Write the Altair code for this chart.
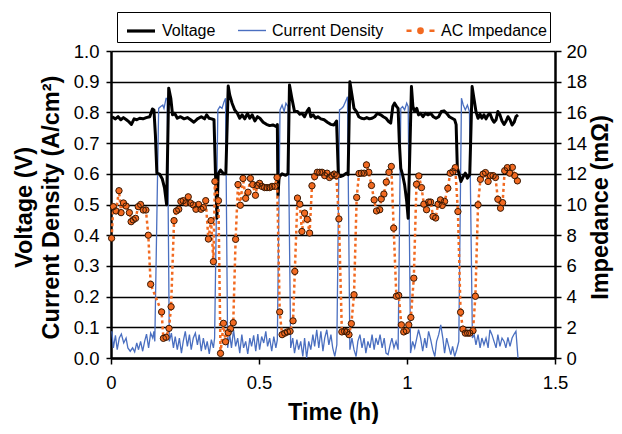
import altair as alt
import pandas as pd

FONT = "Liberation Sans"
BLUE = "#4A6FC0"
ORANGE = "#F26A21"
DOT_EDGE = "#3A1A05"

legend_order = ["Voltage", "Current Density", "AC Impedance"]
scale_domain = ["Voltage", "AC Impedance", "Current Density"]
scale_colors = ["#000000", ORANGE, BLUE]

# ---- Voltage (V) ----
volt_t = [0.003, 0.015, 0.024, 0.033, 0.042, 0.052, 0.060, 0.069, 0.078, 0.087, 0.097, 0.108, 0.119, 0.131,
          0.140, 0.145, 0.150, 0.155, 0.164, 0.173, 0.181, 0.188, 0.195, 0.202, 0.208, 0.215, 0.224, 0.235,
          0.247, 0.258, 0.269, 0.280, 0.292, 0.305, 0.316, 0.323, 0.331, 0.340, 0.348, 0.353, 0.358, 0.362,
          0.370, 0.380, 0.388, 0.396, 0.401, 0.409, 0.418, 0.427, 0.435, 0.443, 0.452, 0.461, 0.469, 0.477,
          0.486, 0.495, 0.503, 0.514, 0.525, 0.536, 0.547, 0.559, 0.562, 0.564, 0.568, 0.578, 0.590, 0.598,
          0.603, 0.611, 0.620, 0.630, 0.638, 0.645, 0.654, 0.663, 0.669, 0.675, 0.683, 0.691, 0.699, 0.709,
          0.720, 0.731, 0.742, 0.753, 0.762, 0.768, 0.775, 0.784, 0.795, 0.801, 0.807, 0.814, 0.821, 0.829,
          0.837, 0.846, 0.855, 0.864, 0.873, 0.882, 0.891, 0.900, 0.911, 0.920, 0.929, 0.938, 0.945, 0.952,
          0.958, 0.965, 0.970, 0.974, 0.979, 0.985, 0.992, 0.999, 1.004, 1.015, 1.020, 1.026, 1.033, 1.039,
          1.046, 1.054, 1.062, 1.071, 1.080, 1.089, 1.098, 1.107, 1.116, 1.125, 1.134, 1.143, 1.152, 1.161,
          1.166, 1.170, 1.176, 1.182, 1.190, 1.197, 1.204, 1.212, 1.220, 1.226, 1.233, 1.240, 1.247, 1.253,
          1.260, 1.267, 1.274, 1.280, 1.287, 1.294, 1.301, 1.307, 1.314, 1.321, 1.328, 1.335, 1.341, 1.348,
          1.355, 1.362, 1.368, 1.375]
volt_v = [0.786, 0.779, 0.786, 0.776, 0.783, 0.776, 0.770, 0.761, 0.779, 0.776, 0.781, 0.779, 0.783, 0.786,
          0.811, 0.808, 0.727, 0.602, 0.599, 0.584, 0.553, 0.499, 0.879, 0.846, 0.792, 0.797, 0.781, 0.786,
          0.779, 0.783, 0.776, 0.768, 0.779, 0.786, 0.779, 0.792, 0.781, 0.779, 0.776, 0.600, 0.455, 0.600,
          0.612, 0.600, 0.600, 0.886, 0.857, 0.830, 0.808, 0.797, 0.781, 0.792, 0.779, 0.797, 0.781, 0.792,
          0.772, 0.786, 0.781, 0.768, 0.761, 0.757, 0.759, 0.754, 0.760, 0.530, 0.590, 0.600, 0.595, 0.600,
          0.889, 0.846, 0.803, 0.803, 0.794, 0.797, 0.786, 0.805, 0.813, 0.786, 0.792, 0.781, 0.786, 0.779,
          0.776, 0.768, 0.761, 0.759, 0.772, 0.600, 0.591, 0.594, 0.602, 0.597, 0.900, 0.857, 0.813, 0.803,
          0.786, 0.781, 0.779, 0.783, 0.779, 0.781, 0.786, 0.797, 0.792, 0.786, 0.781, 0.770, 0.765, 0.819,
          0.830, 0.819, 0.813, 0.705, 0.618, 0.597, 0.564, 0.510, 0.455, 0.884, 0.819, 0.803, 0.813, 0.792,
          0.797, 0.786, 0.797, 0.792, 0.797, 0.786, 0.781, 0.786, 0.803, 0.805, 0.797, 0.786, 0.781, 0.776,
          0.760, 0.620, 0.600, 0.575, 0.591, 0.602, 0.586, 0.597, 0.884, 0.846, 0.803, 0.781, 0.794, 0.781,
          0.792, 0.779, 0.792, 0.797, 0.779, 0.768, 0.776, 0.803, 0.792, 0.772, 0.761, 0.772, 0.786, 0.776,
          0.759, 0.768, 0.786, 0.792]

# ---- Current density (A/cm2) ----
cur_t = [0.003, 0.008, 0.015, 0.021, 0.028, 0.035, 0.043, 0.051, 0.057, 0.065, 0.073, 0.080, 0.087, 0.093,
         0.100, 0.107, 0.114, 0.120, 0.127, 0.134, 0.141, 0.145, 0.148, 0.161, 0.168, 0.175, 0.179, 0.186,
         0.190, 0.197, 0.204, 0.211, 0.217, 0.224, 0.231, 0.238, 0.244, 0.251, 0.258, 0.265, 0.271, 0.278,
         0.285, 0.292, 0.298, 0.305, 0.312, 0.319, 0.325, 0.332, 0.339, 0.346, 0.350, 0.361, 0.368, 0.375,
         0.382, 0.387, 0.394, 0.401, 0.407, 0.414, 0.421, 0.428, 0.435, 0.442, 0.448, 0.455, 0.462, 0.469,
         0.475, 0.482, 0.489, 0.496, 0.502, 0.509, 0.516, 0.523, 0.529, 0.536, 0.543, 0.550, 0.557, 0.562,
         0.571, 0.578, 0.585, 0.591, 0.598, 0.607, 0.614, 0.620, 0.628, 0.634, 0.641, 0.648, 0.654, 0.661,
         0.668, 0.675, 0.682, 0.688, 0.695, 0.702, 0.709, 0.716, 0.722, 0.729, 0.736, 0.743, 0.749, 0.756,
         0.763, 0.772, 0.779, 0.785, 0.792, 0.799, 0.807, 0.814, 0.821, 0.828, 0.834, 0.841, 0.848, 0.855,
         0.861, 0.868, 0.875, 0.882, 0.889, 0.895, 0.902, 0.909, 0.916, 0.923, 0.929, 0.936, 0.943, 0.949,
         0.956, 0.963, 0.970, 0.979, 0.985, 0.992, 0.999, 1.004, 1.012, 1.019, 1.026, 1.033, 1.039, 1.046,
         1.053, 1.060, 1.066, 1.073, 1.080, 1.087, 1.094, 1.100, 1.107, 1.114, 1.121, 1.127, 1.134, 1.141,
         1.148, 1.154, 1.161, 1.168, 1.175, 1.184, 1.190, 1.197, 1.204, 1.211, 1.221, 1.227, 1.233, 1.240,
         1.247, 1.253, 1.260, 1.267, 1.274, 1.280, 1.287, 1.294, 1.301, 1.307, 1.314, 1.321, 1.328, 1.334,
         1.341, 1.348, 1.355, 1.362, 1.368, 1.375]
cur_v = [0.087, 0.033, 0.074, 0.027, 0.065, 0.078, 0.049, 0.065, 0.033, 0.022, 0.033, 0.020, 0.049, 0.027,
         0.054, 0.022, 0.056, 0.078, 0.033, 0.081, 0.065, 0.087, 0.054, 0.813, 0.819, 0.824, 0.813, 0.846,
         0.846, 0.054, 0.081, 0.033, 0.070, 0.027, 0.065, 0.016, 0.054, 0.087, 0.038, 0.076, 0.027, 0.065,
         0.081, 0.043, 0.076, 0.022, 0.065, 0.027, 0.054, 0.013, 0.060, 0.033, 0.065, 0.808, 0.819, 0.813,
         0.835, 0.846, 0.033, 0.076, 0.033, 0.092, 0.038, 0.065, 0.016, 0.076, 0.033, 0.054, 0.013, 0.065,
         0.038, 0.074, 0.022, 0.078, 0.027, 0.070, 0.049, 0.087, 0.038, 0.065, 0.022, 0.070, 0.033, 0.060,
         0.808, 0.824, 0.803, 0.830, 0.819, 0.033, 0.065, 0.016, 0.060, 0.027, 0.054, 0.005, 0.065, 0.000,
         0.054, 0.027, 0.076, 0.038, 0.092, 0.033, 0.087, 0.022, 0.065, 0.092, 0.043, 0.076, 0.033, 0.005,
         0.043, 0.808, 0.813, 0.819, 0.835, 0.851, 0.027, 0.065, 0.027, 0.005, 0.054, 0.076, 0.033, 0.065,
         0.016, 0.054, 0.033, 0.076, 0.027, 0.065, 0.043, 0.076, 0.033, 0.065, 0.016, 0.011, 0.043, 0.065,
         0.033, 0.054, 0.027, 0.813, 0.819, 0.808, 0.830, 0.819, 0.016, 0.054, 0.033, 0.065, 0.092, 0.065,
         0.022, 0.065, 0.033, 0.087, 0.060, 0.027, 0.005, 0.054, 0.076, 0.108, 0.065, 0.016, 0.065, 0.038,
         0.011, 0.038, 0.005, 0.027, 0.054, 0.846, 0.824, 0.808, 0.824, 0.803, 0.065, 0.076, 0.043, 0.076,
         0.033, 0.065, 0.043, 0.065, 0.033, 0.092, 0.076, 0.054, 0.033, 0.076, 0.038, 0.065, 0.054, 0.033,
         0.067, 0.038, 0.065, 0.078, 0.087, 0.000]

# ---- AC impedance (mOhm) ----
imp_t = [0.002, 0.008, 0.017, 0.027, 0.034, 0.042, 0.051, 0.062, 0.068, 0.075, 0.083, 0.092, 0.100, 0.109,
         0.118, 0.126, 0.134, 0.171, 0.177, 0.186, 0.196, 0.203, 0.213, 0.221, 0.229, 0.236, 0.244, 0.253,
         0.261, 0.268, 0.278, 0.287, 0.296, 0.304, 0.312, 0.320, 0.329, 0.338, 0.346, 0.351, 0.363, 0.370,
         0.380, 0.387, 0.396, 0.404, 0.413, 0.421, 0.429, 0.437, 0.446, 0.455, 0.463, 0.471, 0.479, 0.488,
         0.494, 0.502, 0.510, 0.519, 0.527, 0.536, 0.544, 0.553, 0.561, 0.570, 0.578, 0.587, 0.596, 0.605,
         0.615, 0.621, 0.630, 0.638, 0.645, 0.654, 0.663, 0.671, 0.679, 0.688, 0.697, 0.705, 0.713, 0.722,
         0.730, 0.738, 0.746, 0.754, 0.761, 0.770, 0.780, 0.789, 0.796, 0.804, 0.812, 0.821, 0.830, 0.838,
         0.846, 0.855, 0.863, 0.871, 0.880, 0.889, 0.897, 0.908, 0.913, 0.922, 0.930, 0.939, 0.947, 0.955,
         0.964, 0.972, 0.981, 0.989, 0.998, 1.006, 1.013, 1.023, 1.032, 1.040, 1.049, 1.057, 1.066, 1.073,
         1.080, 1.088, 1.097, 1.105, 1.113, 1.119, 1.127, 1.138, 1.146, 1.155, 1.163, 1.172, 1.181, 1.189,
         1.197, 1.205, 1.212, 1.223, 1.231, 1.240, 1.248, 1.257, 1.265, 1.274, 1.282, 1.291, 1.299, 1.307,
         1.316, 1.323, 1.330, 1.339, 1.347, 1.356, 1.364, 1.373]
imp_v = [7.80, 9.86, 9.58, 10.90, 9.47, 10.10, 9.90, 9.47, 8.88, 9.00, 9.10, 9.86, 10.00, 9.64,
         9.64, 8.00, 4.80, 3.00, 1.28, 1.35, 1.93, 3.34, 8.95, 9.58, 9.69, 10.20, 10.25, 10.10,
         10.50, 10.10, 9.97, 9.69, 10.00, 9.69, 9.80, 10.25, 7.75, 8.95, 6.28, 11.50, 10.25, 0.30,
         2.26, 1.06, 1.65, 1.91, 2.30, 7.73, 11.30, 9.95, 11.70, 10.40, 10.80, 11.70, 11.30, 10.60,
         11.24, 11.38, 11.18, 11.10, 11.10, 11.10, 11.18, 11.18, 11.76, 3.00, 1.52, 1.62, 1.70, 1.74,
         2.42, 5.64, 10.42, 10.02, 8.24, 9.44, 9.04, 8.14, 11.22, 11.82, 12.10, 12.10, 12.10, 11.88,
         12.04, 11.76, 11.88, 11.98, 11.88, 9.06, 1.70, 1.74, 1.70, 1.52, 2.24, 4.12, 10.46, 12.02,
         12.04, 12.04, 12.58, 12.10, 11.24, 10.30, 9.58, 9.66, 10.36, 10.68, 11.46, 12.10, 12.48, 8.46,
         4.02, 4.08, 2.16, 1.70, 1.78, 2.16, 2.64, 5.20, 11.32, 11.86, 11.10, 10.02, 9.66, 10.16,
         10.16, 9.22, 9.12, 10.02, 10.30, 9.94, 10.20, 11.06, 12.04, 12.14, 12.40, 9.54, 2.98, 1.88,
         1.62, 1.62, 1.62, 1.78, 4.02, 9.98, 11.64, 11.98, 12.08, 11.50, 11.88, 11.88, 11.76, 10.34,
         9.76, 10.12, 12.20, 12.40, 12.04, 12.42, 11.88, 11.54]

left_ticks = [0.0, 0.1, 0.2, 0.3, 0.4, 0.5, 0.6, 0.7, 0.8, 0.9, 1.0]
right_ticks = [0, 2, 4, 6, 8, 10, 12, 14, 16, 18, 20]
x_ticks = [0, 0.5, 1, 1.5]

volt_df = pd.DataFrame({"t": volt_t, "y": volt_v, "series": "Voltage"})
cur_df = pd.DataFrame({"t": cur_t, "y": cur_v, "series": "Current Density"})
imp_df = pd.DataFrame({"t": imp_t, "imp": imp_v, "series": "AC Impedance"})

# legend glyph for the impedance series: short dash, dot, short dash
IMP_PATH = ("M-1,0L-0.64,0M0.64,0L1,0"
            "M-0.16,0A0.16,0.16,0,1,0,0.16,0A0.16,0.16,0,1,0,-0.16,0Z")

legend = alt.Legend(
    title=None, orient="none", legendX=6, legendY=-39, direction="horizontal",
    values=legend_order, symbolType="stroke", symbolSize=784, symbolStrokeWidth=2,
    symbolOffset=5, labelFont=FONT, labelFontSize=16, labelColor="black", labelOffset=5,
    columnPadding=16, padding=3, strokeColor="black", fillColor="white", symbolOpacity=1,
)

color_enc = alt.Color("series:N", scale=alt.Scale(domain=scale_domain, range=scale_colors), legend=legend)
shape_enc = alt.Shape("series:N", scale=alt.Scale(domain=scale_domain, range=["stroke", IMP_PATH, "stroke"]),
                      legend=legend)
sw_enc = alt.StrokeWidth("series:O", scale=alt.Scale(type="point", domain=scale_domain, range=[3.2, 1.4]),
                         legend=legend)

TICK_FS = 18.5
TITLE_FS = 23.5

x_enc = alt.X("t:Q", scale=alt.Scale(domain=[0, 1.5], nice=False),
              axis=alt.Axis(values=x_ticks, format="~g", grid=False, labelFlush=False,
                            domainColor="black", domainWidth=2.5, tickColor="black", tickWidth=1.5,
                            tickSize=6, labelFont=FONT, labelFontSize=TICK_FS, labelColor="black",
                            labelPadding=9, title="Time (h)", titleFont=FONT, titleFontSize=TITLE_FS,
                            titleFontWeight="bold", titleColor="black", titleX=222, titleY=61,
                            titleBaseline="alphabetic", titleAlign="center"))

y_left = alt.Y("y:Q", scale=alt.Scale(domain=[0, 1], nice=False),
               axis=alt.Axis(values=left_ticks, format=".1f", grid=True, gridColor="black",
                             gridWidth=1.4, domainColor="black", domainWidth=2.5, tickColor="black",
                             tickWidth=1.5, tickSize=5, labelFont=FONT, labelFontSize=TICK_FS,
                             labelColor="black", labelPadding=7, labelFlush=False,
                             title=["Voltage (V)", "Current Density (A/cm²)"], titleFont=FONT,
                             titleFontSize=TITLE_FS, titleFontWeight="bold", titleColor="black",
                             titleAngle=270, titleX=-80, titleY=156, titleBaseline="alphabetic",
                             titleAlign="center", titleLineHeight=27.5))

y_right = alt.Y("imp:Q", scale=alt.Scale(domain=[0, 20], nice=False),
                axis=alt.Axis(orient="right", values=right_ticks, format="d", grid=False,
                              domainColor="black", domainWidth=2.5, tickColor="black", tickWidth=1.5,
                              tickSize=6, labelFont=FONT, labelFontSize=TICK_FS, labelColor="black",
                              labelPadding=5, labelFlush=False, title="Impedance (mΩ)", titleFont=FONT,
                              titleFontSize=TITLE_FS, titleFontWeight="bold", titleColor="black",
                              titleAngle=270, titleX=52, titleY=156, titleBaseline="alphabetic",
                              titleAlign="center"))

cur_line = alt.Chart(cur_df).mark_line(strokeWidth=1.3).encode(
    x=x_enc, y=y_left, color=color_enc)
volt_line = alt.Chart(volt_df).mark_line(strokeWidth=3, strokeJoin="round").encode(
    x=x_enc, y=y_left, color=color_enc)
left = alt.layer(cur_line, volt_line)

imp_line = alt.Chart(imp_df).mark_line(strokeWidth=2.5, strokeDash=[3, 3]).encode(
    x=x_enc, y=y_right, color=color_enc)
# filled dots (the glyph's dashes carry no fill, so only the dot shows)
imp_fill = alt.Chart(imp_df).mark_point(filled=True, size=1700, opacity=1).encode(
    x=x_enc, y=y_right, color=color_enc, shape=shape_enc, strokeWidth=sw_enc)
imp_edge = alt.Chart(imp_df).mark_point(filled=False, shape="circle", size=40, opacity=1,
                                        stroke=DOT_EDGE, strokeWidth=1).encode(x=x_enc, y=y_right)
right = alt.layer(imp_line, imp_fill, imp_edge)

chart = alt.layer(left, right).resolve_scale(y="independent").properties(
    width=444, height=307,
    autosize=alt.AutoSizeParams(type="none"),
    padding={"left": 103, "top": 43, "right": 59, "bottom": 66},
).configure_view(stroke=None).configure(background="white")

chart.save("out.html", embed_options={"renderer": "svg", "actions": False})
